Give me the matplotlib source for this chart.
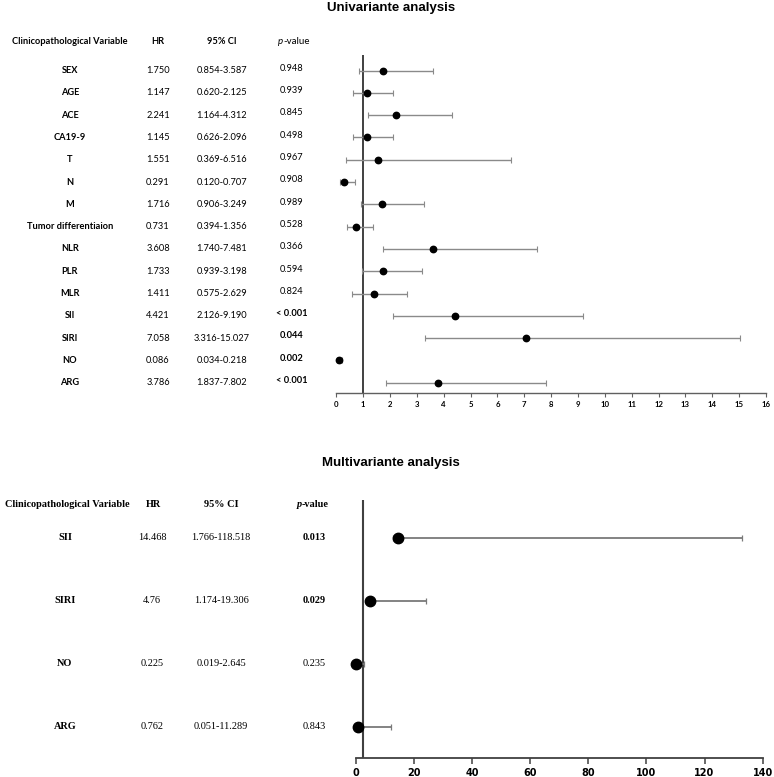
import matplotlib
matplotlib.use("Agg")
import matplotlib.pyplot as plt
import matplotlib.transforms as mtransforms

# ---------------- data ----------------
uni_vars = ["SEX", "AGE", "ACE", "CA19-9", "T", "N", "M", "Tumor differentiaion",
            "NLR", "PLR", "MLR", "SII", "SIRI", "NO", "ARG"]
uni_hr = [1.750, 1.147, 2.241, 1.145, 1.551, 0.291, 1.716, 0.731,
          3.608, 1.733, 1.411, 4.421, 7.058, 0.086, 3.786]
uni_lo = [0.854, 0.620, 1.164, 0.626, 0.369, 0.120, 0.906, 0.394,
          1.740, 0.939, 0.575, 2.126, 3.316, 0.034, 1.837]
uni_hi = [3.587, 2.125, 4.312, 2.096, 6.516, 0.707, 3.249, 1.356,
          7.481, 3.198, 2.629, 9.190, 15.027, 0.218, 7.802]
uni_hr_txt = ["1.750", "1.147", "2.241", "1.145", "1.551", "0.291", "1.716", "0.731",
              "3.608", "1.733", "1.411", "4.421", "7.058", "0.086", "3.786"]
uni_ci_txt = ["0.854-3.587", "0.620-2.125", "1.164-4.312", "0.626-2.096", "0.369-6.516",
              "0.120-0.707", "0.906-3.249", "0.394-1.356", "1.740-7.481", "0.939-3.198",
              "0.575-2.629", "2.126-9.190", "3.316-15.027", "0.034-0.218", "1.837-7.802"]
uni_p_txt = ["0.948", "0.939", "0.845", "0.498", "0.967", "0.908", "0.989", "0.528",
             "0.366", "0.594", "0.824", "< 0.001", "0.044", "0.002", "< 0.001"]
uni_p_bold = [False] * 11 + [True] * 4

multi_vars = ["SII", "SIRI", "NO", "ARG"]
multi_hr = [14.468, 4.76, 0.225, 0.762]
multi_lo = [1.766, 1.174, 0.019, 0.051]
multi_hi = [118.518, 19.306, 2.645, 11.289]
multi_hr_txt = ["14.468", "4.76", "0.225", "0.762"]
multi_ci_txt = ["1.766-118.518", "1.174-19.306", "0.019-2.645", "0.051-11.289"]
multi_p_txt = ["0.013", "0.029", "0.235", "0.843"]
multi_p_bold = [True, True, False, False]

uni_ticks = list(range(0, 17))
multi_ticks = list(range(0, 141, 20))

W, H = 774, 777
fig = plt.figure(figsize=(W / 100, H / 100), dpi=100)

def fx(px):
    return px / W

def fy(py):
    return 1 - py / H

# ---------------- Univariate ----------------
ax1 = fig.add_axes([fx(336.3), fy(393), fx(766) - fx(336.3), fy(55) - fy(393)])
ys = list(range(len(uni_vars)))
ax1.errorbar(uni_hr, ys,
             xerr=[[h - l for h, l in zip(uni_hr, uni_lo)], [u - h for h, u in zip(uni_hr, uni_hi)]],
             fmt="none", ecolor="#8a8a8a", elinewidth=1.0, capsize=2.2, capthick=0.8, zorder=2)
ax1.plot(uni_hr, ys, "o", color="black", markersize=4.6, zorder=3, clip_on=False)
ax1.axvline(1, color="#404040", linewidth=1.4, zorder=1)
ax1.set_xlim(0, 16)
ax1.set_ylim(14.46, -0.70)
ax1.set_xticks(uni_ticks)
ax1.set_xticklabels([str(t) for t in uni_ticks], fontsize=5.6, fontweight="bold",
                    family="Lato")
ax1.set_yticks([])
for s in ["left", "right", "top"]:
    ax1.spines[s].set_visible(False)
ax1.spines["bottom"].set_color("#606060")
ax1.spines["bottom"].set_linewidth(1.0)
ax1.tick_params(axis="x", direction="out", length=3, width=0.8, color="#606060", pad=3)

fig.text(fx(391), fy(7.5), "Univariante analysis", ha="center", va="center",
         fontsize=9.5, fontweight="bold", family="Liberation Sans")

tr1 = mtransforms.blended_transform_factory(fig.transFigure, ax1.transData)
hy = fy(41)
fnt = "Lato"
fs = 6.7
fig.text(fx(70), hy, "Clinicopathological Variable", ha="center", va="center",
         fontsize=fs, fontweight="bold", family=fnt)
fig.text(fx(158), hy, "HR", ha="center", va="center", fontsize=fs, fontweight="bold", family=fnt)
fig.text(fx(222), hy, "95% CI", ha="center", va="center", fontsize=fs, fontweight="bold", family=fnt)
fig.text(fx(283), hy, "p", ha="right", va="center", fontsize=fs + 0.3, style="italic",
         family=fnt)
fig.text(fx(283), hy, "-value", ha="left", va="center", fontsize=fs + 0.3, family=fnt)
for i in range(len(uni_vars)):
    fig.text(fx(70), i, uni_vars[i], transform=tr1, ha="center", va="center",
             fontsize=fs, fontweight="bold", family=fnt)
    fig.text(fx(158), i, uni_hr_txt[i], transform=tr1, ha="center", va="center",
             fontsize=fs, family=fnt)
    fig.text(fx(222), i, uni_ci_txt[i], transform=tr1, ha="center", va="center",
             fontsize=fs, family=fnt)
    fig.text(fx(292), i - 0.1, uni_p_txt[i], transform=tr1, ha="center", va="center",
             fontsize=fs, family=fnt, fontweight="bold" if uni_p_bold[i] else "normal")

# ---------------- Multivariate ----------------
ax2 = fig.add_axes([fx(355.7), fy(758), fx(762.7) - fx(355.7), fy(500) - fy(758)])
ys2 = list(range(len(multi_vars)))
ax2.errorbar(multi_hr, ys2, xerr=[multi_lo, multi_hi], fmt="none", ecolor="#7a7a7a",
             elinewidth=1.3, capsize=2.5, capthick=0.9, zorder=2)
ax2.plot(multi_hr, ys2, "o", color="black", markersize=7.5, zorder=3, clip_on=False)
ax2.axvline(2.4, color="#404040", linewidth=1.5, zorder=1)
ax2.set_xlim(0, 140)
ax2.set_ylim(3.5, -0.6)
ax2.set_xticks(multi_ticks)
ax2.set_xticklabels([str(t) for t in multi_ticks], fontsize=7, fontweight="bold",
                    family="DejaVu Sans")
ax2.set_yticks([])
for s in ["left", "right", "top"]:
    ax2.spines[s].set_visible(False)
ax2.spines["bottom"].set_color("#404040")
ax2.spines["bottom"].set_linewidth(1.3)
ax2.tick_params(axis="x", direction="out", length=4, width=1.1, color="#404040", pad=3)

fig.text(fx(390.5), fy(463), "Multivariante analysis", ha="center", va="center",
         fontsize=9.5, fontweight="bold", family="Liberation Sans")

tr2 = mtransforms.blended_transform_factory(fig.transFigure, ax2.transData)
sf = "Liberation Serif"
fs2 = 7.4
hy2 = fy(505)
fig.text(fx(67), hy2, "Clinicopathological Variable", ha="center", va="center",
         fontsize=fs2, fontweight="bold", family=sf)
fig.text(fx(153), hy2, "HR", ha="center", va="center", fontsize=fs2, fontweight="bold", family=sf)
fig.text(fx(221), hy2, "95% CI", ha="center", va="center", fontsize=fs2, fontweight="bold", family=sf)
fig.text(fx(302), hy2, "p", ha="right", va="center", fontsize=fs2, fontweight="bold",
         style="italic", family=sf)
fig.text(fx(302), hy2, "-value", ha="left", va="center", fontsize=fs2, fontweight="bold", family=sf)
for i in range(len(multi_vars)):
    fig.text(fx(65), i, multi_vars[i], transform=tr2, ha="center", va="center",
             fontsize=fs2, fontweight="bold", family=sf)
    fig.text(fx(152), i, multi_hr_txt[i], transform=tr2, ha="center", va="center",
             fontsize=fs2, family=sf)
    fig.text(fx(221), i, multi_ci_txt[i], transform=tr2, ha="center", va="center",
             fontsize=fs2, family=sf)
    fig.text(fx(314), i, multi_p_txt[i], transform=tr2, ha="center", va="center",
             fontsize=fs2, family=sf, fontweight="bold" if multi_p_bold[i] else "normal")

fig.savefig("out.png", dpi=100, facecolor="white")
